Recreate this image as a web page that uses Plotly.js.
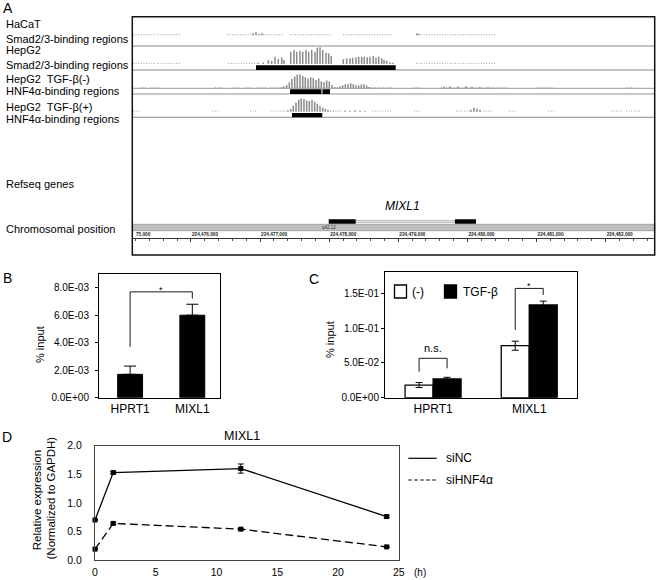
<!DOCTYPE html>
<html><head><meta charset="utf-8">
<script src="https://cdn.plot.ly/plotly-3.0.1.min.js"></script>
<style>html,body{margin:0;padding:0;background:#fff}#chart{width:656px;height:580px}</style>
</head><body><div id="chart"></div>
<script>
// ================= DATA =================
// ---- Panel A: genome browser (chr1, around MIXL1) ----
const trackLabels = ['HaCaT', 'Smad2/3-binding regions', 'HepG2', 'Smad2/3-binding regions',
  'HepG2  TGF-β(-)', 'HNF4α-binding regions', 'HepG2  TGF-β(+)', 'HNF4α-binding regions'];
const sectionLabels = ['Refseq genes', 'Chromosomal position'];
const genomeStart = 224475151, genomeEnd = 224482710;

// HaCaT Smad2/3 ChIP signal
const hacatPos = [224476897, 224476941, 224476984, 224477028, 224479270, 224479300];
const hacatH   = [2, 3, 1.5, 2, 2, 1.5];
const hacatLowStart = [224475161, 224475523, 224476521, 224477433, 224478200, 224479256];
const hacatLowEnd   = [224475479, 224475841, 224477331, 224478041, 224478909, 224480414];

// HepG2 Smad2/3 ChIP signal
const smadPos = [224476974, 224477046, 224477119, 224477168, 224477216, 224477263, 224477313, 224477346,
  224477443, 224477491, 224477530, 224477577, 224477617, 224477664, 224477703, 224477747, 224477795,
  224477828, 224477867, 224477906, 224477954, 224477993, 224478030,
  224478204, 224478253, 224478301, 224478340, 224478388, 224478427, 224478470, 224478508, 224478551,
  224478590, 224478638, 224478677, 224478716, 224478760, 224478793, 224478832, 224478880, 224478919];
const smadH = [1.3, 1.5, 4, 3, 7.3, 5, 6.5, 4,
  12.3, 14, 12.3, 13.3, 12.3, 14, 12.3, 14, 12.3, 16.3, 16.7, 14, 11.3, 10.7, 8,
  4.7, 5.7, 5.7, 6.3, 6.7, 7.3, 7.3, 7.3, 6.7, 7.3, 8, 6.3, 7.3, 5.7, 4, 3.3, 1.7, 1.3];
const smadLowStart = [224475161, 224475523, 224476536, 224479256];
const smadLowEnd   = [224475479, 224475841, 224476955, 224480414];
const smadRegionStart = [224476941];
const smadRegionEnd   = [224478962];

// HepG2 TGF-beta(-) HNF4a ChIP signal
const hnfMinusPos = [224477313, 224477346, 224477385, 224477423, 224477462, 224477501, 224477538, 224477577,
  224477617, 224477654, 224477693, 224477732, 224477770, 224477809, 224477848, 224477886, 224477925,
  224477964, 224478001, 224478041, 224478080, 224478117, 224478156, 224478195, 224478233, 224478272,
  224478311, 224478349, 224478388, 224478427, 224478464, 224478504, 224478543, 224478580,
  224479661, 224479748, 224479864, 224479979, 224480066, 224480182, 224480298];
const hnfMinusH = [1, 2, 3.3, 6, 9.3, 11.7, 13.7, 14, 12.3, 11, 9.7, 11, 10.3, 8.3, 9.7, 6.7, 6,
  7.7, 6.7, 3.3, 1.3, 1, 2, 3, 4, 4.3, 5, 4, 3, 2.7, 3.7, 4, 2.7, 1.3,
  1.5, 2, 1.5, 2, 1.5, 1.2, 1];
const hnfMinusLowStart = [224475262, 224475407, 224476348, 224476608, 224476782, 224476955, 224477144,
  224478590, 224479227, 224479618, 224480992, 224482295];
const hnfMinusLowEnd   = [224475349, 224475552, 224476450, 224476710, 224476883, 224477100, 224477303,
  224478923, 224479328, 224480587, 224481238, 224482396];
const hnfMinusRegionStart = [224477433, 224477903];
const hnfMinusRegionEnd   = [224477888, 224478012];

// HepG2 TGF-beta(+) HNF4a ChIP signal
const hnfPlusPos = [224477404, 224477443, 224477481, 224477520, 224477559, 224477596, 224477635, 224477674,
  224477712, 224477751, 224477790, 224477828, 224477867, 224477906, 224477944, 224477983, 224478022,
  224478229, 224478301, 224478373, 224478446, 224478518,
  224480052, 224480095, 224480138, 224480182];
const hnfPlusH = [1.3, 3, 6, 9.3, 12, 13.3, 12.7, 11.3, 10.7, 12, 10, 8, 6, 4, 3, 2, 1,
  1.2, 1, 1.5, 1.3, 1, 2, 4, 3, 2];
const hnfPlusLowStart = [224475161, 224476304, 224476854, 224477144, 224478055, 224478619, 224479227,
  224479835, 224480182, 224480602, 224481166, 224482078, 224482295];
const hnfPlusLowEnd   = [224475262, 224476391, 224476955, 224477389, 224478200, 224478909, 224479328,
  224480037, 224480370, 224480703, 224481253, 224482237, 224482512];
const hnfPlusRegionStart = [224477462];
const hnfPlusRegionEnd   = [224477900];

// RefSeq gene MIXL1
const geneName = 'MIXL1';
const exonStart = [224477993, 224479820];
const exonEnd   = [224478383, 224480124];
const bandName = 'q42.12';

// ---- Panel B: ChIP Smad2/3 ----
const bCats = ['HPRT1', 'MIXL1'];
const bVals = [0.0017, 0.0060];
const bErr  = [0.0006, 0.0008];
const bTickVals = [0, 0.002, 0.004, 0.006, 0.008];
const bTickText = ['0.0E+00', '2.0E-03', '4.0E-03', '6.0E-03', '8.0E-03'];

// ---- Panel C: ChIP HNF4a ----
const cCats = ['HPRT1', 'MIXL1'];
const cSeries = ['(-)', 'TGF-β'];
const cCtrl    = [0.0182, 0.0747];
const cCtrlErr = [0.0036, 0.0065];
const cTgf     = [0.0269, 0.1332];
const cTgfErr  = [0.0024, 0.0055];
const cTickVals = [0, 0.05, 0.10, 0.15];
const cTickText = ['0.0E+00', '5.0E-02', '1.0E-01', '1.5E-01'];

// ---- Panel D: MIXL1 expression time course ----
const dTime = [0, 1.5, 12, 24];
const dTicks = [0, 5, 10, 15, 20, 25];
const siNC     = [0.70, 1.53, 1.60, 0.76];
const siNCErr  = [0.01, 0.02, 0.08, 0.02];
const siHNF    = [0.19, 0.64, 0.54, 0.23];
const siHNFErr = [0.01, 0.02, 0.015, 0.01];
const dSeries = ['siNC', 'siHNF4α'];

// ================= LAYOUT HELPERS =================
const W = 656, H = 580;
const px = x => x / W;
const py = y => 1 - y / H;
const FONT = 'Liberation Sans, Arial, Helvetica, sans-serif';

const traces = [];
const shapes = [];
const annotations = [];

function ann(text, x, y, opts) {
  annotations.push(Object.assign({text: text, x: px(x), y: py(y), xref: 'paper', yref: 'paper',
    showarrow: false, xanchor: 'left', yanchor: 'middle', font: {size: 11, color: '#000', family: FONT}}, opts || {}));
}

// ================= PANEL A =================
const tracksA = [
  {pos: hacatPos, h: hacatH, lowS: hacatLowStart, lowE: hacatLowEnd, base: 219.7},
  {pos: smadPos, h: smadH, lowS: smadLowStart, lowE: smadLowEnd, base: 191, regS: smadRegionStart, regE: smadRegionEnd, r0: 185, r1: 189.7},
  {pos: hnfMinusPos, h: hnfMinusH, lowS: hnfMinusLowStart, lowE: hnfMinusLowEnd, base: 166.7, regS: hnfMinusRegionStart, regE: hnfMinusRegionEnd, r0: 161, r1: 165.7},
  {pos: hnfPlusPos, h: hnfPlusH, lowS: hnfPlusLowStart, lowE: hnfPlusLowEnd, base: 143.3, regS: hnfPlusRegionStart, regE: hnfPlusRegionEnd, r0: 137.7, r1: 142}
];

// separators
[[209, '#8a8a8a', 1], [185, '#c4c4c4', 2], [166.7, '#9a9a9a', 1], [161, '#c8c8c8', 2], [137.7, '#8a8a8a', 1]].forEach(s => {
  shapes.push({type: 'line', xref: 'x domain', yref: 'y', x0: 0, x1: 1, y0: s[0], y1: s[0], line: {color: s[1], width: s[2]}, layer: 'below'});
});

tracksA.forEach(t => {
  const lx = [], ly = [];
  t.lowS.forEach((s, i) => { lx.push(s, t.lowE[i], null); ly.push(t.base + 0.6, t.base + 0.6, null); });
  traces.push({type: 'scatter', mode: 'lines', x: lx, y: ly, xaxis: 'x', yaxis: 'y',
    line: {color: '#a0a0a0', width: 1, dash: '1px,1.6px'}, hoverinfo: 'skip', showlegend: false});
  traces.push({type: 'bar', x: t.pos, y: t.h, base: t.base, width: 22, xaxis: 'x', yaxis: 'y',
    marker: {color: '#8c8c8c', line: {width: 0}}, hoverinfo: 'skip', showlegend: false});
  if (t.regS) {
    t.regS.forEach((s, i) => shapes.push({type: 'rect', xref: 'x', yref: 'y', x0: s, x1: t.regE[i], y0: t.r0, y1: t.r1,
      fillcolor: '#000', line: {width: 0}}));
  }
});

// chromosome band
shapes.push({type: 'rect', xref: 'x domain', yref: 'y', x0: 0, x1: 1, y0: 24.3, y1: 30.7, fillcolor: '#bfbfbf', line: {color: '#8e8e8e', width: 0.7}, layer: 'below'});
// gene model
shapes.push({type: 'rect', xref: 'x', yref: 'y', x0: exonEnd[0], x1: exonStart[1], y0: 32.6, y1: 34.4, fillcolor: '#f2f2f2', line: {color: '#8a8a8a', width: 0.6}});
exonStart.forEach((s, i) => shapes.push({type: 'rect', xref: 'x', yref: 'y', x0: s, x1: exonEnd[i], y0: 31.3, y1: 35.7, fillcolor: '#000', line: {width: 0}}));
annotations.push({text: geneName, x: (exonStart[0] + exonEnd[1]) / 2, y: 49, xref: 'x', yref: 'y', showarrow: false,
  xanchor: 'center', yanchor: 'middle', font: {size: 12, family: FONT, style: 'italic', color: '#000'}});
annotations.push({text: bandName, x: exonStart[0], y: 27.6, xref: 'x', yref: 'y', showarrow: false,
  xanchor: 'center', yanchor: 'middle', font: {size: 4.5, family: FONT, color: '#333'}});
ann('75,000', 133.5, 234, {font: {size: 4.7, family: FONT, weight: 'bold', color: '#222'}});

// panel A box
shapes.push({type: 'rect', xref: 'paper', yref: 'paper', x0: px(132.3), x1: px(654.7), y0: py(255), y1: py(16.7), line: {color: '#111', width: 1.5}});

// panel A text
const labelY = [24, 39, 50, 65, 79, 91, 106.5, 119];
trackLabels.forEach((t, i) => ann(t, 4, labelY[i]));
ann(sectionLabels[0], 4, 183.5);
ann(sectionLabels[1], 4, 229);

// ================= PANEL B =================
traces.push({type: 'bar', x: bCats.map((c, i) => i), y: bVals, width: 0.40, offset: -0.20, xaxis: 'x2', yaxis: 'y2',
  marker: {color: '#000', line: {color: '#000', width: 1}},
  error_y: {type: 'data', array: bErr, arrayminus: bErr.map(() => 0), symmetric: false, color: '#000', thickness: 1, width: 6},
  hoverinfo: 'skip', showlegend: false});
traces.push({type: 'scatter', mode: 'lines', x: [0, 0, 1, 1], y: [0.0037, 0.0077, 0.0077, 0.0072], xaxis: 'x2', yaxis: 'y2',
  line: {color: '#000', width: 0.9}, hoverinfo: 'skip', showlegend: false});
annotations.push({text: '*', x: 0.5, y: 0.0077, xref: 'x2', yref: 'y2', showarrow: false, yanchor: 'middle', yshift: 2,
  font: {size: 9, family: FONT, color: '#000'}});

// ================= PANEL C =================
const cBarW = 0.2912;
traces.push({type: 'bar', name: cSeries[0], x: cCats.map((c, i) => i), y: cCtrl, width: cBarW, offset: -cBarW, xaxis: 'x3', yaxis: 'y3',
  marker: {color: '#fff', line: {color: '#000', width: 1.3}},
  error_y: {type: 'data', array: cCtrlErr, color: '#000', thickness: 1, width: 3.5}, hoverinfo: 'skip', showlegend: false});
traces.push({type: 'bar', name: cSeries[1], x: cCats.map((c, i) => i), y: cTgf, width: cBarW, offset: 0, xaxis: 'x3', yaxis: 'y3',
  marker: {color: '#000', line: {color: '#000', width: 1.3}},
  error_y: {type: 'data', array: cTgfErr, color: '#000', thickness: 1, width: 3.5}, hoverinfo: 'skip', showlegend: false});
const hb = cBarW / 2;
traces.push({type: 'scatter', mode: 'lines', x: [-hb, -hb, hb, hb, null, 1 - hb, 1 - hb, 1 + hb, 1 + hb],
  y: [0.0374, 0.0566, 0.0566, 0.0422, null, 0.0973, 0.157, 0.157, 0.1476], xaxis: 'x3', yaxis: 'y3',
  line: {color: '#000', width: 0.9}, hoverinfo: 'skip', showlegend: false});
annotations.push({text: 'n.s.', x: 0, y: 0.0712, xref: 'x3', yref: 'y3', showarrow: false, yanchor: 'middle',
  font: {size: 11, family: FONT, color: '#000'}});
annotations.push({text: '*', x: 1, y: 0.158, xref: 'x3', yref: 'y3', showarrow: false, yanchor: 'middle', yshift: 2,
  font: {size: 9, family: FONT, color: '#000'}});
// legend C
shapes.push({type: 'rect', xref: 'paper', yref: 'paper', x0: px(394.5), x1: px(406.5), y0: py(298), y1: py(285), fillcolor: '#fff', line: {color: '#000', width: 1.3}});
shapes.push({type: 'rect', xref: 'paper', yref: 'paper', x0: px(444.5), x1: px(456.5), y0: py(298), y1: py(285), fillcolor: '#000', line: {color: '#000', width: 1.3}});
ann(cSeries[0], 409.5, 291.7, {font: {size: 12, family: FONT, color: '#000'}});
ann(cSeries[1], 461, 291.7, {font: {size: 12, family: FONT, color: '#000'}});

// ================= PANEL D =================
traces.push({type: 'scatter', mode: 'lines+markers', name: dSeries[0], x: dTime, y: siNC, xaxis: 'x4', yaxis: 'y4',
  line: {color: '#000', width: 1.3}, marker: {symbol: 'square', size: 5, color: '#000'},
  error_y: {type: 'data', array: siNCErr, color: '#000', thickness: 1, width: 3}, cliponaxis: false, hoverinfo: 'skip', showlegend: false});
traces.push({type: 'scatter', mode: 'lines+markers', name: dSeries[1], x: dTime, y: siHNF, xaxis: 'x4', yaxis: 'y4',
  line: {color: '#000', width: 1.3, dash: '8px,4px'}, marker: {symbol: 'square', size: 5, color: '#000'},
  error_y: {type: 'data', array: siHNFErr, color: '#000', thickness: 1, width: 3}, cliponaxis: false, hoverinfo: 'skip', showlegend: false});
// legend D
shapes.push({type: 'line', xref: 'paper', yref: 'paper', x0: px(408.3), x1: px(436.7), y0: py(458.3), y1: py(458.3), line: {color: '#000', width: 1.2}});
shapes.push({type: 'line', xref: 'paper', yref: 'paper', x0: px(408.3), x1: px(436.7), y0: py(480), y1: py(480), line: {color: '#000', width: 1, dash: '3.5px,2.5px'}});
ann(dSeries[0], 443.5, 458.3, {font: {size: 12, family: FONT, color: '#000'}});
ann(dSeries[1], 443.5, 480, {font: {size: 12, family: FONT, color: '#000'}});
ann('MIXL1', 241.7, 436, {xanchor: 'center', font: {size: 12.5, family: FONT, color: '#000'}});
ann('(h)', 412, 572, {font: {size: 10, family: FONT, color: '#000'}});
ann('Relative expression', 36.7, 500.5, {xanchor: 'center', textangle: -90, font: {size: 11.5, family: FONT, color: '#000'}});
ann('(Normalized to GAPDH)', 50, 498.5, {xanchor: 'center', textangle: -90, font: {size: 11.5, family: FONT, color: '#000'}});

// axis titles B, C
ann('% input', 40, 345, {xanchor: 'center', textangle: -90, font: {size: 11, family: FONT, color: '#000'}});
ann('% input', 330, 340, {xanchor: 'center', textangle: -90, font: {size: 11, family: FONT, color: '#000'}});

// panel letters
ann('A', 1, 8, {font: {size: 14, family: FONT, color: '#000'}});
ann('B', 1, 278, {font: {size: 14, family: FONT, color: '#000'}});
ann('C', 307, 279, {font: {size: 14, family: FONT, color: '#000'}});
ann('D', 0, 437, {font: {size: 14, family: FONT, color: '#000'}});

const baseAxis = {showgrid: false, zeroline: false, fixedrange: true};
const layout = {
  width: W, height: H, margin: {l: 0, r: 0, t: 0, b: 0, pad: 0},
  paper_bgcolor: '#fff', plot_bgcolor: 'rgba(0,0,0,0)',
  font: {family: FONT, color: '#000', size: 11},
  showlegend: false, barmode: 'overlay',
  xaxis: Object.assign({}, baseAxis, {domain: [px(132.3), px(654.7)], range: [genomeStart, genomeEnd],
    anchor: 'free', position: py(238.3), side: 'top', showline: true, linecolor: '#333', linewidth: 1,
    ticks: 'inside', ticklen: 3, tickwidth: 1, tickcolor: '#333', tick0: 224476000, dtick: 1000,
    tickformat: ',d', ticklabelposition: 'outside right',
    tickfont: {size: 4.7, family: FONT, weight: 'bold', color: '#222'},
    minor: {dtick: 200, ticks: 'inside', ticklen: 1.5, tickcolor: '#555', showgrid: false}}),
  yaxis: Object.assign({}, baseAxis, {domain: [py(255), py(16.7)], range: [0, 238.3], visible: false, anchor: 'x'}),

  xaxis2: Object.assign({}, baseAxis, {domain: [px(99), px(220)], anchor: 'y2', range: [-0.5, 1.445],
    tickvals: bCats.map((c, i) => i), ticktext: bCats, showline: true, mirror: true, linecolor: '#000', linewidth: 1,
    ticks: '', tickfont: {size: 12, family: FONT, color: '#000'}}),
  yaxis2: Object.assign({}, baseAxis, {domain: [py(397.7), py(274)], anchor: 'x2', range: [0, 0.009],
    tickvals: bTickVals, ticktext: bTickText, showline: true, mirror: true, linecolor: '#000', linewidth: 1,
    ticks: 'outside', ticklen: 3, tickcolor: '#000', ticklabelstandoff: 4, tickfont: {size: 10, family: FONT, color: '#000'}}),

  xaxis3: Object.assign({}, baseAxis, {domain: [px(385), px(577.3)], anchor: 'y3', range: [-0.5, 1.5],
    tickvals: cCats.map((c, i) => i), ticktext: cCats, showline: true, mirror: true, linecolor: '#000', linewidth: 1,
    ticks: '', tickfont: {size: 12, family: FONT, color: '#000'}}),
  yaxis3: Object.assign({}, baseAxis, {domain: [py(397.7), py(272.4)], anchor: 'x3', range: [0, 0.18],
    tickvals: cTickVals, ticktext: cTickText, showline: true, mirror: true, linecolor: '#000', linewidth: 1,
    ticks: 'outside', ticklen: 3, tickcolor: '#000', tickfont: {size: 10, family: FONT, color: '#000'}}),

  xaxis4: Object.assign({}, baseAxis, {domain: [px(95), px(398.8)], anchor: 'y4', range: [0, 25],
    tickvals: dTicks, showline: true, mirror: true, linecolor: '#444', linewidth: 1,
    ticks: '', ticklabelstandoff: 2, tickfont: {size: 10.5, family: FONT, color: '#000'}}),
  yaxis4: Object.assign({}, baseAxis, {domain: [py(560), py(445.7)], anchor: 'x4', range: [0, 2],
    tickvals: [0, 0.5, 1, 1.5, 2], tickformat: '.1f', showline: true, mirror: true, linecolor: '#444', linewidth: 1,
    ticks: '', ticklabelstandoff: 10, tickfont: {size: 10.5, family: FONT, color: '#000'}}),
  shapes: shapes,
  annotations: annotations
};

Plotly.newPlot('chart', traces, layout, {displayModeBar: false, staticPlot: true});
</script></body></html>
